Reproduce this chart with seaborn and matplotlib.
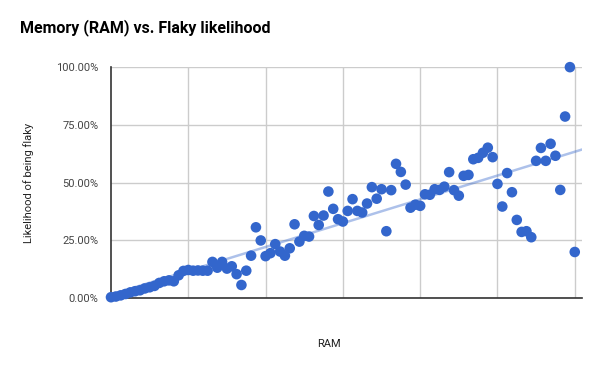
import numpy as np
import pandas as pd
import seaborn as sns
import matplotlib.pyplot as plt
from matplotlib.ticker import FuncFormatter

# RAM step index (gridline every 16 steps) and flaky likelihood (%)
ram = [0, 1, 2, 3, 4, 5, 6, 7, 8, 9,
       10, 11, 12, 13, 14, 15, 16, 17, 18, 19,
       20, 21, 22, 23, 24, 25, 26, 27, 28, 29,
       30, 31, 32, 33, 34, 35, 36, 37, 38, 39,
       40, 41, 42, 43, 44, 45, 46, 47, 48, 49,
       50, 51, 52, 53, 54, 55, 56, 57, 58, 59,
       60, 61, 62, 63, 64, 65, 66, 67, 68, 69,
       70, 71, 72, 73, 74, 75, 76, 77, 78, 79,
       80, 81, 82, 83, 84, 85, 86, 87, 88, 89,
       90, 91, 92, 93, 94, 95, 96]
flaky = [0.3, 0.6, 1.1, 1.7, 2.4, 2.9, 3.3, 4.1, 4.6, 5.2,
         6.5, 7.2, 7.6, 7.2, 9.8, 11.7, 12.1, 11.8, 11.9, 11.8,
         11.8, 15.6, 13.1, 15.6, 12.7, 13.7, 10.3, 5.6, 11.8, 18.3,
         30.6, 24.9, 18.1, 19.4, 23.3, 20.1, 18.3, 21.5, 31.9, 24.4,
         26.9, 26.6, 35.5, 31.6, 35.7, 46.1, 38.6, 34.1, 33.1, 37.7,
         42.8, 37.7, 37.0, 40.9, 48.0, 43.0, 47.1, 28.9, 46.7, 58.1,
         54.6, 49.1, 39.1, 40.4, 39.9, 44.9, 44.7, 47.1, 46.8, 48.2,
         54.5, 46.7, 44.3, 52.9, 53.3, 60.1, 60.7, 62.9, 65.1, 61.0,
         49.4, 39.6, 54.1, 45.8, 33.8, 28.6, 28.9, 26.3, 59.4, 65.0,
         59.4, 66.8, 61.6, 46.8, 78.6, 100.0, 19.9]
y_ticks = [0, 25, 50, 75, 100]

df = pd.DataFrame({'ram': ram, 'flaky': np.array(flaky) / 100})

sns.set_style('white')
plt.rcParams['font.family'] = ['Roboto', 'DejaVu Sans']

fig = plt.figure(figsize=(6, 3.71), dpi=100)
ax = fig.add_axes([0.185, 0.197, 0.785, 0.622])

sns.scatterplot(data=df, x='ram', y='flaky', ax=ax, color='#3366cc', s=58,
                edgecolor='none', clip_on=False, zorder=3)
ax.set_xlim(0, 97.5)
ax.set_ylim(0, 1)

# linear trendline across the whole axis
sns.regplot(data=df, x='ram', y='flaky', scatter=False, ci=None, truncate=False,
            ax=ax, line_kws={'color': '#3366cc', 'alpha': 0.4, 'lw': 1.8, 'zorder': 2})
ax.set_xlim(0, 97.5)
ax.set_ylim(0, 1)

ax.set_xticks([16, 32, 48, 64, 80, 96])
ax.set_xticklabels([])
ax.set_yticks([t / 100 for t in y_ticks])
ax.yaxis.set_major_formatter(FuncFormatter(lambda v, p: f'{v * 100:.2f}%'))
ax.tick_params(axis='both', length=0)
ax.tick_params(axis='y', pad=9, labelsize=8, labelcolor='#444444')
ax.grid(True, color='#cccccc', lw=1)
ax.set_axisbelow(True)
for s in ['top', 'right']:
    ax.spines[s].set_visible(False)
for s in ['left', 'bottom']:
    ax.spines[s].set_color('#333333')
    ax.spines[s].set_linewidth(1.2)
ax.set_xlabel('')
ax.set_ylabel('')

fig.text(0.033, 0.925, 'Memory (RAM) vs. Flaky likelihood', fontsize=11.5,
         fontweight='bold', color='#000000', va='center', ha='left')
fig.text(0.047, 0.507, 'Likelihood of being flaky', rotation=90, fontsize=8,
         color='#222222', va='center', ha='center')
fig.text(0.548, 0.073, 'RAM', fontsize=8, color='#222222', va='center', ha='center')

plt.savefig('out.png', dpi=100)
